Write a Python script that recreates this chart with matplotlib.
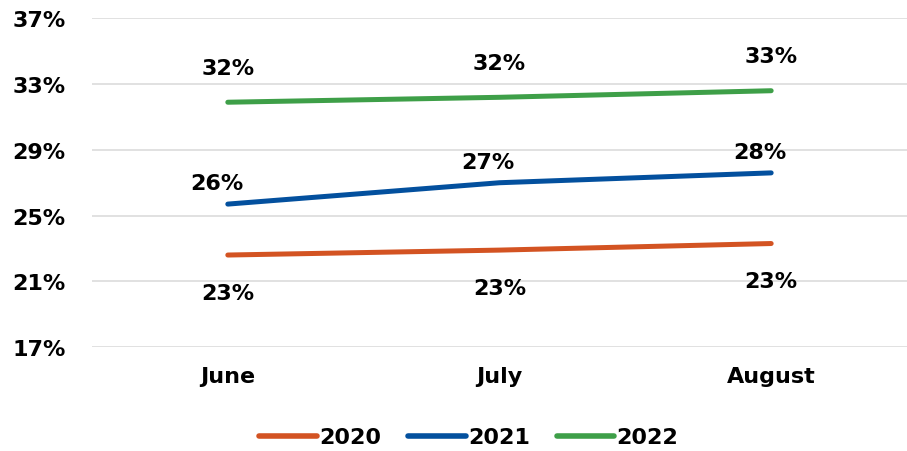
import matplotlib.pyplot as plt
import numpy as np

months = ["June", "July", "August"]
years = ["2020", "2021", "2022"]
v2020 = [22.6, 22.9, 23.3]
v2021 = [25.7, 27.0, 27.6]
v2022 = [31.9, 32.2, 32.6]
colors = ["#D35322", "#03509E", "#3E9F48"]

plt.rcParams['font.family'] = ['DejaVu Sans']
plt.rcParams['font.weight'] = 'bold'

fig = plt.figure(figsize=(9.07, 4.52), dpi=100)
ax = fig.add_axes([0.1014, 0.23, 0.8986, 0.727])

x = np.arange(len(months))
series = [v2020, v2021, v2022]
# label offsets in points (below for 2020, above for the others)
offsets = [(0, -27), (-8, 15), (0, 25)]

for vals, yr, c, (dx, dy) in zip(series, years, colors, offsets):
    ax.plot(x, vals, color=c, lw=3.6, solid_capstyle='round', label=yr, zorder=3)
    for xi, v in zip(x, vals):
        ax.annotate(f"{round(v):.0f}%", (xi, v), xytext=(dx, dy),
                    textcoords='offset points', ha='center', va='center',
                    fontsize=16, fontweight='bold', color='black')

ax.set_xlim(-0.5, 2.5)
ax.set_ylim(17, 37)
ax.set_yticks(np.arange(17, 38, 4))
ax.set_yticklabels([f"{t}%" for t in range(17, 38, 4)])
ax.set_xticks(x)
ax.set_xticklabels(months)
ax.tick_params(axis='both', length=0, labelsize=16)
ax.tick_params(axis='x', pad=14)
ax.tick_params(axis='y', pad=19)
for lbl in ax.get_xticklabels() + ax.get_yticklabels():
    lbl.set_fontweight('bold')
ax.grid(axis='y', color='#dedede', lw=1.3)
ax.set_axisbelow(True)
for s in ax.spines.values():
    s.set_visible(False)

leg = fig.legend(loc='center', bbox_to_anchor=(0.517, 0.03), ncol=3, frameon=False,
                 handlelength=2.6, handletextpad=0.1, columnspacing=1.2,
                 prop={'size': 16, 'weight': 'bold'})
for h in leg.legend_handles:
    h.set_linewidth(4)

fig.savefig("out.png", dpi=100)
